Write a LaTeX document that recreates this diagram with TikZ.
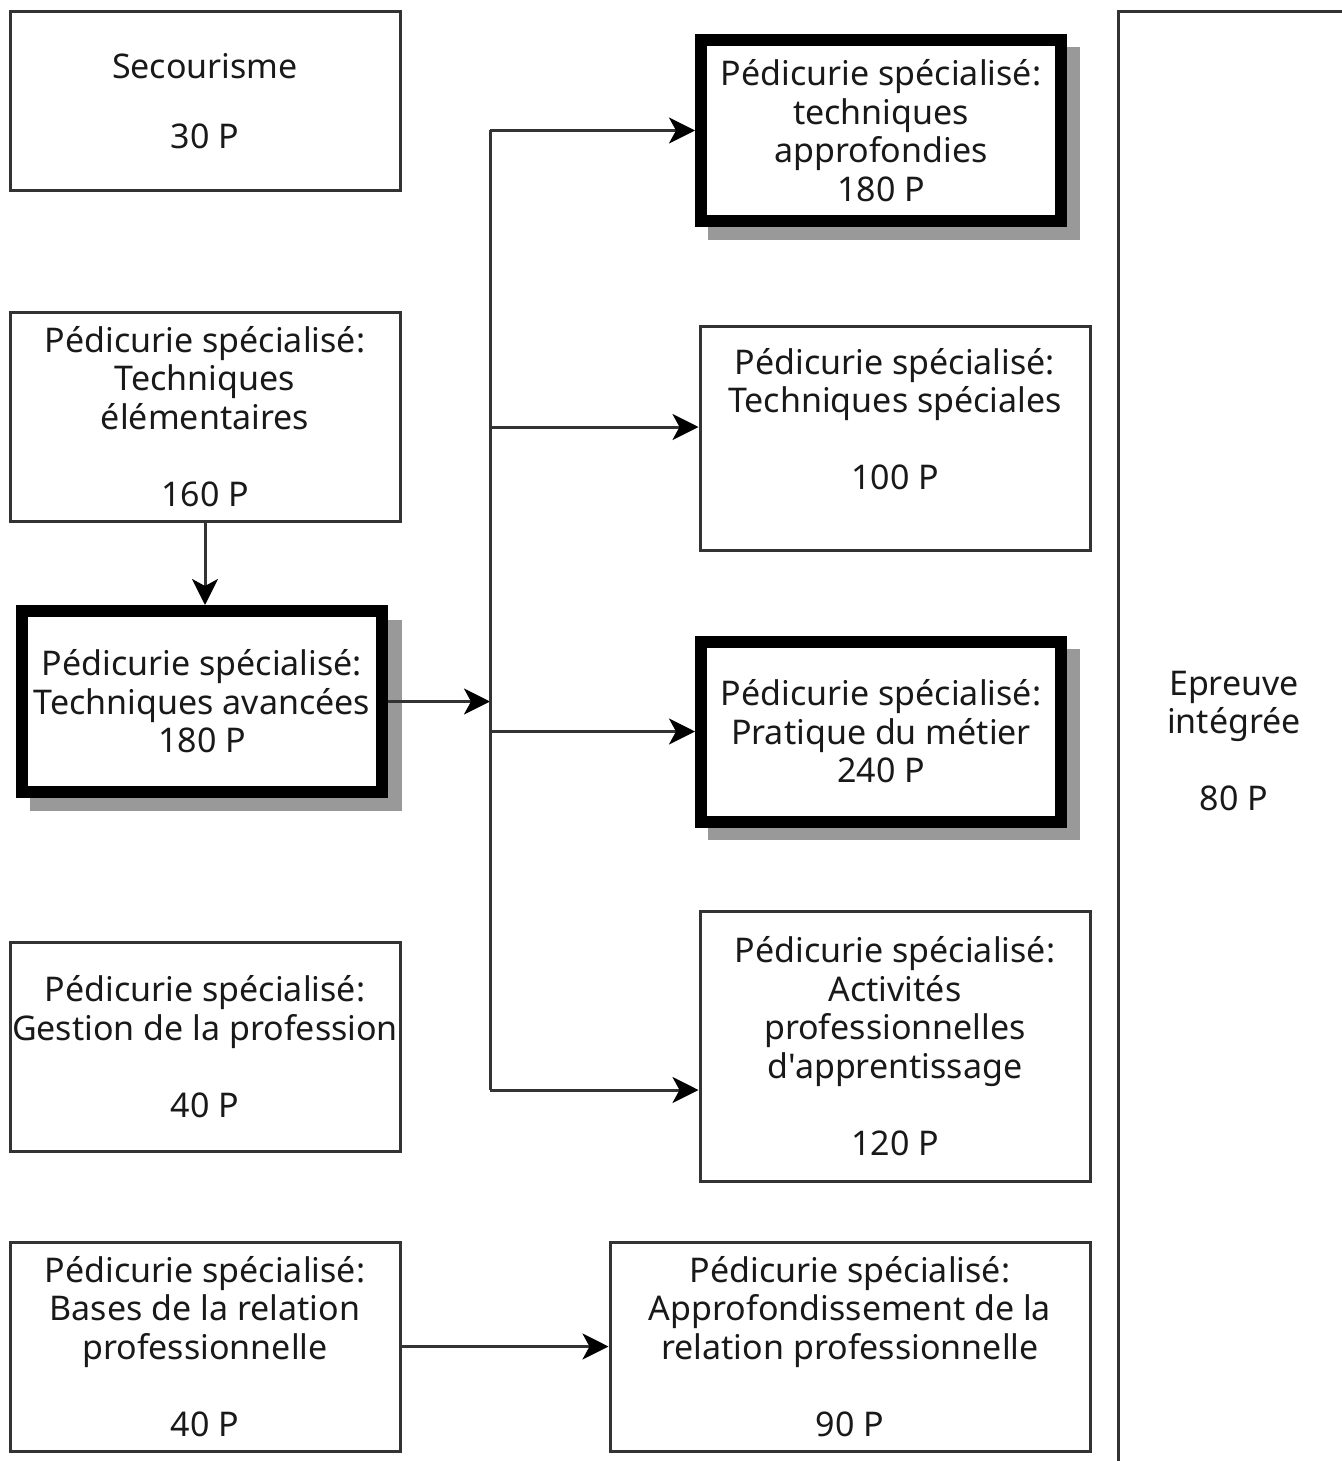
\documentclass[tikz,border=0pt]{standalone}
\usepackage{fontspec}
\setmainfont{Noto Sans}[Ligatures=TeXOff]
\usetikzlibrary{arrows.meta}
\definecolor{linec}{HTML}{333333}
\definecolor{shadowc}{HTML}{999999}
\newcommand\boxfont{\fontsize{34}{38.5}\selectfont}
\begin{document}
\begin{tikzpicture}[x=1pt,y=-1pt,
  box/.style={draw=linec, line width=3pt, rectangle, align=center, inner sep=0pt, font=\boxfont, text=black!90},
  tbox/.style={box, draw=black, line width=12pt, fill=white},
  conn/.style={draw=linec, line width=3pt, -{Stealth[length=26pt,width=26pt,inset=7pt,color=black]}},
  plain/.style={draw=linec, line width=3pt}]
\useasboundingbox (0,0) rectangle (1341,1461);
\fill[white] (0,0) rectangle (1341,1461);
% shadows
\fill[shadowc] (30,620) rectangle (402,811);
\fill[shadowc] (708,47) rectangle (1080,240);
\fill[shadowc] (708,649) rectangle (1080,840);
% left column
\node[box, minimum width=390pt, minimum height=178pt] (b1) at (205,101) {Secourisme\\[32pt]30 P};
\node[box, minimum width=390pt, minimum height=209pt] (b2) at (205,416.5) {Pédicurie spécialisé:\\Techniques\\élémentaires\\[38.5pt]160 P};
\node[tbox, minimum width=360pt, minimum height=181pt] (b3) at (202,701.5) {Pédicurie spécialisé:\\Techniques avancées\\180 P};
\node[box, minimum width=390pt, minimum height=209pt] (b4) at (205,1046.5) {Pédicurie spécialisé:\\Gestion de la profession\\[38.5pt]40 P};
\node[box, minimum width=390pt, minimum height=209pt] (b5) at (205,1346.5) {Pédicurie spécialisé:\\Bases de la relation\\professionnelle\\[38.5pt]40 P};
% middle column
\node[tbox, minimum width=360pt, minimum height=181pt] (b6) at (881,130.5) {Pédicurie spécialisé:\\techniques\\approfondies\\180 P};
\node[box, minimum width=390pt, minimum height=224pt] (b7) at (895,438) {Pédicurie spécialisé:\\Techniques spéciales\\[38.5pt]100 P\\\mbox{}};
\node[tbox, minimum width=360pt, minimum height=180pt] (b8) at (881,731.5) {Pédicurie spécialisé:\\Pratique du métier\\240 P};
\node[box, minimum width=390pt, minimum height=270pt] (b9) at (895,1046) {Pédicurie spécialisé:\\Activités\\professionnelles\\d'apprentissage\\[38.5pt]120 P};
\node[box, minimum width=480pt, minimum height=209pt] (b10) at (850,1346.5) {Pédicurie spécialisé:\\Approfondissement de la\\relation professionnelle\\[38.5pt]90 P};
% right column
\node[box, minimum width=232pt, minimum height=1458pt] (b11) at (1234,741) {Epreuve\\intégrée\\[38.5pt]80 P};
% connectors
\coordinate (J) at (490,701.5);
\coordinate (T) at (490,130.5);
\coordinate (K7) at (490,427);
\coordinate (K8) at (490,731.5);
\coordinate (B) at (490,1090);
\draw[conn] (b2.south) -- (b2.south |- b3.north);
\draw[conn] (b3.east) -- (J);
\draw[plain, line join=round] (T) -- (B);
\draw[conn] (T) -- (b6.west);
\draw[conn] (K7) -- (K7 -| b7.west);
\draw[conn] (K8) -- (b8.west);
\draw[conn] (B) -- (B -| b9.west);
\draw[conn] (b5.east) -- (b10.west);
\end{tikzpicture}
\end{document}
